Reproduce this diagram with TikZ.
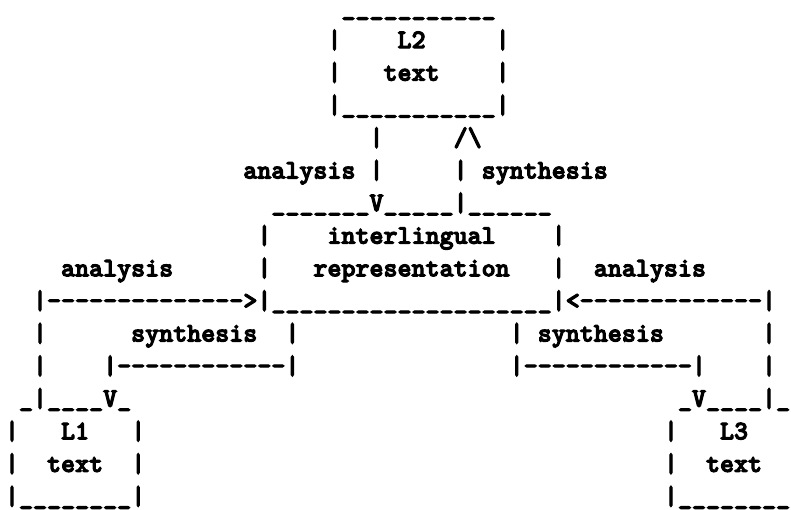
\documentclass[tikz,border=0pt]{standalone}
\usepackage{fontspec}
% heavy typewriter face for the character drawing
\newfontfamily\asciifont{lmmonolt10-bold.otf}[FakeBold=4]
% a run of n copies of one character, each boxed so no ligatures form
\ExplSyntaxOn
\cs_new:Npn \charrun #1#2 { \prg_replicate:nn {#1} { \mbox{#2} } }
\ExplSyntaxOff
\tikzset{
  tt/.style={font=\fontsize{26.7}{32.6}\selectfont\asciifont,
    inner sep=0pt, outer sep=0pt, anchor=base west},
}
\begin{document}
\begin{tikzpicture}
\useasboundingbox (0,0) rectangle (791pt,509pt);
% character grid: x = column, y = text line (baselines)
\begin{scope}[shift={(5pt,493.5pt)}, x=14.02pt, y=-32.6pt]
  % L2 box
  \node[tt] (ltwotop) at (24,0) {\charrun{11}{\_}};
  \node[tt] (ltwoa) at (23,1) {|};
  \node[tt] (ltwoname) at (28,1) {L2};
  \node[tt] (ltwob) at (35,1) {|};
  \node[tt] (ltwoc) at (23,2) {|};
  \node[tt] (ltwotext) at (27,2) {text};
  \node[tt] (ltwod) at (35,2) {|};
  \node[tt] (ltwoe) at (23,3) {|};
  \node[tt] (ltwobot) at (24,3) {\charrun{11}{\_}};
  \node[tt] (ltwof) at (35,3) {|};
  % L2 <-> interlingual
  \node[tt] (downa) at (26,4) {|};
  \node[tt] (uptip) at (32,4) {/\textbackslash};
  \node[tt] (anatop) at (17,5) {analysis};
  \node[tt] (downb) at (26,5) {|};
  \node[tt] (upb) at (32,5) {|};
  \node[tt] (syntop) at (34,5) {synthesis};
  % interlingual box
  \node[tt] (ilta) at (19,6) {\charrun{7}{\_}};
  \node[tt] (downtip) at (26,6) {V};
  \node[tt] (iltb) at (27,6) {\charrun{5}{\_}};
  \node[tt] (upc) at (32,6) {|};
  \node[tt] (iltc) at (33,6) {\charrun{6}{\_}};
  \node[tt] (ila) at (18,7) {|};
  \node[tt] (ilname) at (23,7) {interlingual};
  \node[tt] (ilb) at (39,7) {|};
  \node[tt] (analeft) at (4,8) {analysis};
  \node[tt] (ilc) at (18,8) {|};
  \node[tt] (ilrep) at (22,8) {representation};
  \node[tt] (ild) at (39,8) {|};
  \node[tt] (anaright) at (42,8) {analysis};
  \node[tt] (la) at (2,9) {|};
  \node[tt] (ldash) at (3,9) {\charrun{14}{-}};
  \node[tt] (ltip) at (17,9) {>};
  \node[tt] (ile) at (18,9) {|};
  \node[tt] (ilbot) at (19,9) {\charrun{20}{\_}};
  \node[tt] (ilf) at (39,9) {|};
  \node[tt] (rtip) at (40,9) {<};
  \node[tt] (rdash) at (41,9) {\charrun{13}{-}};
  \node[tt] (ra) at (54,9) {|};
  % synthesis returns
  \node[tt] (lb) at (2,10) {|};
  \node[tt] (synleft) at (9,10) {synthesis};
  \node[tt] (lsa) at (20,10) {|};
  \node[tt] (rsa) at (36,10) {|};
  \node[tt] (synright) at (38,10) {synthesis};
  \node[tt] (rb) at (54,10) {|};
  \node[tt] (lc) at (2,11) {|};
  \node[tt] (lsb) at (7,11) {|};
  \node[tt] (lsdash) at (8,11) {\charrun{12}{-}};
  \node[tt] (lsc) at (20,11) {|};
  \node[tt] (rsb) at (36,11) {|};
  \node[tt] (rsdash) at (37,11) {\charrun{12}{-}};
  \node[tt] (rsc) at (49,11) {|};
  \node[tt] (rc) at (54,11) {|};
  % L1 box top
  \node[tt] (lonea) at (1,12) {\_};
  \node[tt] (ld) at (2,12) {|};
  \node[tt] (loneb) at (3,12) {\charrun{4}{\_}};
  \node[tt] (lstip) at (7,12) {V};
  \node[tt] (lonec) at (8,12) {\_};
  % L3 box top
  \node[tt] (lthreea) at (48,12) {\_};
  \node[tt] (rstip) at (49,12) {V};
  \node[tt] (lthreeb) at (50,12) {\charrun{4}{\_}};
  \node[tt] (rd) at (54,12) {|};
  \node[tt] (lthreec) at (55,12) {\_};
  % L1 box
  \node[tt] (loned) at (0,13) {|};
  \node[tt] (lonename) at (4,13) {L1};
  \node[tt] (lonee) at (9,13) {|};
  \node[tt] (lonef) at (0,14) {|};
  \node[tt] (lonetext) at (3,14) {text};
  \node[tt] (loneg) at (9,14) {|};
  \node[tt] (loneh) at (0,15) {|};
  \node[tt] (lonebot) at (1,15) {\charrun{8}{\_}};
  \node[tt] (lonei) at (9,15) {|};
  % L3 box
  \node[tt] (lthreed) at (47,13) {|};
  \node[tt] (lthreename) at (51,13) {L3};
  \node[tt] (lthreef) at (47,14) {|};
  \node[tt] (lthreetext) at (50,14) {text};
  \node[tt] (lthreeh) at (47,15) {|};
  \node[tt] (lthreebot) at (48,15) {\charrun{8}{\_}};
\end{scope}
\end{tikzpicture}
\end{document}
